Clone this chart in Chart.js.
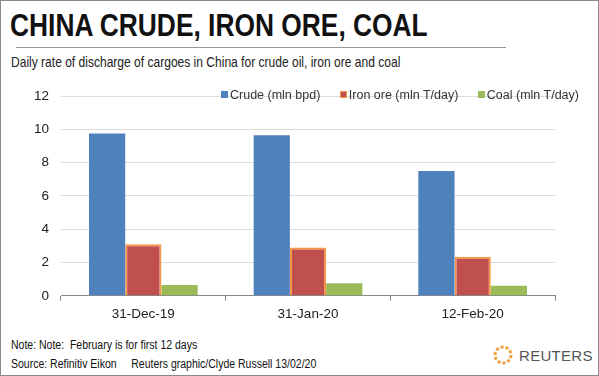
<!DOCTYPE html>
<html lang="en">
<head>
    <meta charset="UTF-8">
    <title>China crude, iron ore, coal</title>
    <script src="https://cdn.jsdelivr.net/npm/chart.js"></script>
    <style>
        body {
            margin: 0;
            background: #fff;
            font-family: "Liberation Sans", Arial, sans-serif;
        }
        .frame {
            position: relative;
            width: 597px;
            height: 374px;
            border: 1px solid #8a8a8a;
            overflow: hidden;
            background: #fff;
        }
        .narrow {
            transform-origin: left top;
            white-space: nowrap;
        }
        h1 {
            position: absolute;
            left: 9px;
            top: 7px;
            margin: 0;
            font-size: 31px;
            font-weight: bold;
            color: #111;
            transform: scaleX(0.85);
        }
        .rule {
            position: absolute;
            left: 15px;
            top: 46px;
            width: 490px;
            height: 1px;
            background: #999;
        }
        .sub {
            position: absolute;
            left: 10px;
            top: 53px;
            font-size: 14.5px;
            color: #222;
            transform: scaleX(0.83);
        }
        .legend {
            position: absolute;
            top: 87px;
            left: 220px;
            font-size: 12.5px;
            color: #333;
            white-space: nowrap;
        }
        .legend span.box {
            display: inline-block;
            width: 7px;
            height: 7px;
            margin-right: 2px;
            vertical-align: 1px;
        }
        .legend .item { margin-right: 16px; }
        .chart-wrap {
            position: absolute;
            left: 0;
            top: 75px;
            width: 597px;
            height: 251px;
        }
        .note {
            position: absolute;
            left: 10px;
            font-size: 12.5px;
            color: #111;
            transform: scaleX(0.84);
        }
        .logo {
            position: absolute;
            left: 491px;
            top: 343px;
            font-size: 15px;
            color: #555;
            letter-spacing: 0.3px;
        }
        .logo svg { vertical-align: -5px; margin-right: 5px; }
    </style>
</head>
<body>
<div class="frame">
    <h1 class="narrow">CHINA CRUDE, IRON ORE, COAL</h1>
    <div class="rule"></div>
    <div class="sub narrow">Daily rate of discharge of cargoes in China for crude oil, iron ore and coal</div>
    <div class="chart-wrap"><canvas id="myChart"></canvas></div>
    <div class="legend">
        <span class="item"><span class="box" style="background:#4F81BD"></span>Crude (mln bpd)</span>
        <span class="item"><span class="box" style="background:#C0504D;border:1.5px solid #F79646;width:5px;height:5px"></span>Iron ore (mln T/day)</span>
        <span><span class="box" style="background:#9BBB59"></span>Coal (mln T/day)</span>
    </div>
    <div class="note narrow" style="top:337px">Note: Note:&nbsp; February is for first 12 days</div>
    <div class="note narrow" style="top:356px">Source: Refinitiv Eikon&nbsp;&nbsp;&nbsp;&nbsp; Reuters graphic/Clyde Russell 13/02/20</div>
    <div class="logo">
        <svg width="22" height="22" viewBox="0 0 22 22">
            <circle cx="11" cy="11" r="8" fill="none" stroke="#F0A040" stroke-width="3" stroke-dasharray="3 2"/>
        </svg>REUTERS
    </div>
</div>

<script>
    const categories = ['31-Dec-19', '31-Jan-20', '12-Feb-20'];
    const crude = [9.75, 9.65, 7.5];
    const ironOre = [3.1, 2.9, 2.35];
    const coal = [0.65, 0.75, 0.6];
    const yTicks = [0, 2, 4, 6, 8, 10, 12];

    const ctx = document.getElementById('myChart').getContext('2d');

    new Chart(ctx, {
        type: 'bar',
        data: {
            labels: categories,
            datasets: [
                { label: 'Crude (mln bpd)', data: crude, backgroundColor: '#4F81BD', borderWidth: 0 },
                { label: 'Iron ore (mln T/day)', data: ironOre, backgroundColor: '#C0504D', borderColor: '#F79646', borderWidth: 2 },
                { label: 'Coal (mln T/day)', data: coal, backgroundColor: '#9BBB59', borderWidth: 0 }
            ]
        },
        options: {
            responsive: true,
            maintainAspectRatio: false,
            animation: false,
            categoryPercentage: 0.66,
            barPercentage: 1.0,
            layout: { padding: { top: 3, right: 43, left: 0, bottom: 0 } },
            plugins: {
                legend: { display: false },
                tooltip: { enabled: false }
            },
            scales: {
                x: {
                    grid: { offset: true, drawOnChartArea: false, tickLength: 5, color: '#888' },
                    border: { color: '#888' },
                    ticks: { color: '#222', font: { family: 'Liberation Sans', size: 13.5 }, padding: 5 }
                },
                y: {
                    min: 0,
                    max: 12,
                    afterFit: (s) => { s.width = 60; },
                    afterBuildTicks: (s) => { s.ticks = yTicks.map(v => ({ value: v })); },
                    grid: { color: '#dcdcdc', drawTicks: false },
                    border: { display: false },
                    ticks: { color: '#222', font: { family: 'Liberation Sans', size: 13.5 }, padding: 12 }
                }
            }
        }
    });
</script>
</body>
</html>
